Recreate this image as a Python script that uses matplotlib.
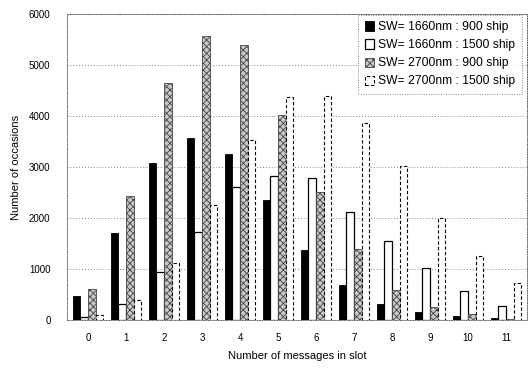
import numpy as np
import matplotlib.pyplot as plt

plt.rcParams['font.family'] = ['Liberation Sans', 'DejaVu Sans']
plt.rcParams['hatch.linewidth'] = 0.6

cats = list(range(12))
labels = ['SW= 1660nm : 900 ship', 'SW= 1660nm : 1500 ship',
          'SW= 2700nm : 900 ship', 'SW= 2700nm : 1500 ship']
s1660_900 = [470, 1700, 3070, 3570, 3250, 2350, 1370, 690, 310, 160, 70, 40]
s1660_1500 = [60, 310, 940, 1720, 2600, 2820, 2780, 2120, 1550, 1020, 570, 280]
s2700_900 = [600, 2430, 4650, 5570, 5390, 4020, 2510, 1390, 590, 250, 110, 30]
s2700_1500 = [100, 400, 1110, 2250, 3530, 4370, 4390, 3860, 3020, 2000, 1250, 730]

fig = plt.figure(figsize=(5.29, 3.7), dpi=100)
ax = fig.add_axes([0.127, 0.135, 0.869, 0.827])

x = np.arange(len(cats))
w = 0.2
ax.bar(x - 1.5*w, s1660_900, w, color='black', edgecolor='black', lw=0.6, label=labels[0], zorder=3)
ax.bar(x - 0.5*w, s1660_1500, w, color='white', edgecolor='black', lw=0.9, label=labels[1], zorder=3)
ax.bar(x + 0.5*w, s2700_900, w, color='#c8c8c8', edgecolor='#444444', hatch='xxxxx', lw=0.6, label=labels[2], zorder=3)
ax.bar(x + 1.5*w, s2700_1500, w, color='white', edgecolor='black', ls=(0, (3, 2)), lw=0.8, label=labels[3], zorder=3)

ax.set_xlim(-0.55, 11.55)
ax.set_ylim(0, 6000)
ax.set_yticks(range(0, 6001, 1000))
ax.set_xticks(x)
ax.tick_params(labelsize=7, length=0, pad=9)
ax.tick_params(axis='y', pad=12)
ax.yaxis.grid(True, ls=(0, (1, 2)), color='#888888', lw=0.7)
for s in ax.spines.values():
    s.set_linestyle((0, (1, 1.5)))
    s.set_linewidth(0.7)
    s.set_color('#666666')

ax.set_xlabel('Number of messages in slot', fontsize=8, labelpad=6)
ax.set_ylabel('Number of occasions', fontsize=8, labelpad=6)

leg = ax.legend(loc='upper right', bbox_to_anchor=(0.997, 1.01), fontsize=8.7,
                frameon=True, fancybox=False, handlelength=0.8, handleheight=0.8,
                handletextpad=0.3, borderpad=0.55, labelspacing=0.5,
                borderaxespad=0.3)
leg.get_frame().set_edgecolor('#666666')
leg.get_frame().set_linestyle((0, (1, 1.5)))
leg.get_frame().set_linewidth(0.7)

fig.savefig('out.png', dpi=100)
